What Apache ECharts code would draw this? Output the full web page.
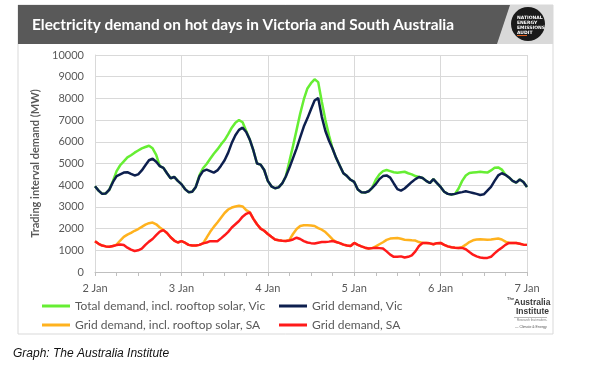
<!DOCTYPE html>
<html>
<head>
<meta charset="utf-8">
<script src="https://cdn.jsdelivr.net/npm/echarts@6/dist/echarts.min.js"></script>
<style>
html,body{margin:0;padding:0;background:#fff;}
#chart{width:600px;height:367px;}
</style>
</head>
<body>
<div id="chart"></div>
<script>
// Hourly values from 2 Jan 00:00 to 7 Jan 00:00 (MW)
const dayLabels = ['2 Jan','3 Jan','4 Jan','5 Jan','6 Jan','7 Jan'];
const yTicks = [0,1000,2000,3000,4000,5000,6000,7000,8000,9000,10000];

const vicTotal = [
 3950,3750,3600,3620,3800,4200,4650,4920,5100,5280,5380,5500,5600,5700,5760,5820,5700,5400,4880,4800,4550,4320,4380,4200,
 4050,3820,3680,3700,3920,4450,4780,4980,5220,5450,5650,5880,6080,6350,6650,6880,7000,6900,6500,6100,5600,5000,4950,4700,
 4200,3950,3860,3900,4080,4400,5100,5800,6550,7300,7950,8460,8700,8880,8750,7850,7000,6300,5680,5250,4900,4550,4420,4250,
 4150,3800,3680,3660,3720,3880,4250,4500,4650,4700,4650,4600,4570,4600,4620,4550,4500,4420,4380,4330,4200,4100,4280,4100,
 3920,3700,3600,3570,3600,3850,4200,4450,4560,4580,4600,4620,4600,4580,4680,4800,4820,4720,4480,4360,4200,4120,4260,4150,
 3920];
const vicGrid = [
 3950,3750,3600,3620,3800,4150,4420,4500,4580,4600,4520,4450,4500,4680,4920,5150,5220,5080,4880,4800,4550,4320,4380,4200,
 4050,3820,3680,3700,3920,4400,4650,4720,4650,4580,4680,4900,5150,5500,5950,6300,6550,6650,6450,6100,5600,5000,4950,4700,
 4200,3950,3860,3900,4080,4400,4800,5250,5700,6200,6700,7080,7500,7900,8020,7150,6500,6050,5680,5250,4900,4550,4420,4250,
 4150,3800,3680,3660,3720,3880,4050,4280,4420,4450,4350,4080,3820,3750,3850,4000,4150,4280,4380,4330,4200,4100,4280,4100,
 3920,3700,3600,3570,3600,3650,3680,3720,3680,3640,3600,3550,3580,3750,3920,4200,4450,4550,4480,4360,4200,4120,4260,4150,
 3920];
const saTotal = [
 1420,1300,1220,1180,1160,1200,1260,1450,1620,1720,1800,1900,1980,2080,2180,2250,2280,2200,2050,1930,1800,1600,1450,1360,
 1420,1350,1250,1220,1220,1250,1320,1580,1850,2080,2280,2500,2720,2880,2970,3020,3050,3020,2850,2750,2450,2200,2000,1900,
 1750,1620,1500,1460,1440,1430,1480,1750,1980,2120,2150,2150,2140,2120,2020,1950,1840,1680,1500,1380,1330,1260,1220,1200,
 1340,1250,1180,1120,1080,1100,1180,1280,1370,1480,1540,1560,1570,1530,1490,1480,1460,1450,1380,1340,1340,1320,1280,1330,
 1340,1250,1180,1140,1120,1110,1150,1260,1380,1460,1500,1510,1500,1490,1500,1520,1540,1500,1400,1340,1340,1340,1300,1260,
 1250];
const saGrid = [
 1420,1300,1220,1180,1160,1200,1240,1270,1240,1120,1030,970,1000,1080,1250,1400,1520,1700,1860,1930,1800,1600,1450,1360,
 1420,1350,1250,1220,1220,1250,1320,1360,1420,1420,1420,1550,1690,1850,2050,2200,2350,2550,2680,2750,2450,2200,2000,1900,
 1750,1620,1500,1460,1440,1430,1450,1500,1580,1520,1420,1360,1330,1310,1350,1380,1380,1400,1430,1380,1330,1260,1220,1200,
 1340,1250,1180,1120,1080,1100,1120,1100,1080,950,800,700,700,720,670,700,770,950,1200,1340,1340,1320,1280,1330,
 1340,1250,1180,1140,1120,1110,1110,1050,920,800,720,670,650,650,700,860,1000,1120,1250,1340,1340,1340,1300,1260,
 1250];

const seriesNames = [
 'Total demand, incl. rooftop solar, Vic',
 'Grid demand, Vic',
 'Grid demand, incl. rooftop solar, SA',
 'Grid demand, SA'
];
const seriesColors = ['#66ee33', '#0d1f4e', '#ffb21e', '#ff1a1a'];
const seriesValues = [vicTotal, vicGrid, saTotal, saGrid];

const FONT = 'Lato, "Open Sans", sans-serif';
const chart = echarts.init(document.getElementById('chart'), null, {renderer: 'canvas'});

const legendCommon = {
  orient: 'horizontal', icon: 'rect', itemWidth: 28, itemHeight: 3,
  textStyle: {color: '#595959', fontSize: 12, fontFamily: FONT},
  selectedMode: false, padding: 0
};

chart.setOption({
  animation: false,
  backgroundColor: '#ffffff',
  grid: {left: 95, right: 73, top: 55, bottom: 95, containLabel: false},
  xAxis: {
    type: 'value', min: 0, max: 120, interval: 24,
    axisLine: {show: true, lineStyle: {color: '#bfbfbf', width: 1}},
    axisTick: {show: true, length: 4, lineStyle: {color: '#bfbfbf'}},
    minorTick: {show: true, splitNumber: 4, length: 4, lineStyle: {color: '#bfbfbf'}},
    splitLine: {show: true, lineStyle: {color: '#d9d9d9', width: 1}},
    axisLabel: {
      color: '#595959', fontSize: 11, fontFamily: FONT, margin: 11,
      formatter: v => dayLabels[Math.round(v / 24)] || ''
    }
  },
  yAxis: {
    type: 'value', min: yTicks[0], max: yTicks[yTicks.length - 1], interval: 1000,
    name: 'Trading interval demand (MW)', nameLocation: 'middle', nameRotate: 90, nameGap: 47,
    nameTextStyle: {color: '#595959', fontSize: 11, fontWeight: 'bold', fontFamily: FONT},
    axisLine: {show: true, lineStyle: {color: '#d9d9d9'}},
    axisTick: {show: false},
    splitLine: {show: true, lineStyle: {color: '#d9d9d9', width: 1}},
    axisLabel: {color: '#595959', fontSize: 11, fontFamily: FONT, margin: 11, formatter: v => String(v)}
  },
  legend: [
    Object.assign({left: 42, top: 300, data: [seriesNames[0]]}, legendCommon),
    Object.assign({left: 279, top: 300, data: [seriesNames[1]]}, legendCommon),
    Object.assign({left: 42, top: 319, data: [seriesNames[2]]}, legendCommon),
    Object.assign({left: 279, top: 319, data: [seriesNames[3]]}, legendCommon)
  ],
  series: seriesValues.map((vals, k) => ({
    name: seriesNames[k], type: 'line', symbol: 'none', smooth: false,
    color: seriesColors[k],
    lineStyle: {color: seriesColors[k], width: 2.5},
    data: vals.map((v, i) => [i, v]),
    z: 2 + k
  })),
  graphic: [
    {type: 'rect', shape: {x: 18, y: 5, width: 535, height: 329}, style: {fill: 'none', stroke: '#d9d9d9', lineWidth: 1}, z: 0},
    {type: 'rect', shape: {x: 18, y: 5, width: 535, height: 39}, style: {fill: '#d9d9d9'}, z: 1},
    {type: 'polygon', shape: {points: [[18, 5], [510, 5], [497, 44], [18, 44]]}, style: {fill: '#595959'}, z: 2},
    {type: 'text', style: {text: 'Electricity demand on hot days in Victoria and South Australia', x: 32, y: 25,
      fill: '#ffffff', font: 'bold 15.4px ' + FONT, textVerticalAlign: 'middle'}, z: 3},
    {type: 'circle', shape: {cx: 528, cy: 24, r: 17}, style: {fill: '#1a1a1a'}, z: 3},
    {type: 'text', style: {text: 'NATIONAL\nENERGY\nEMISSIONS\nAUDIT', x: 517, y: 15, fill: '#ffffff',
      font: 'bold 4.5px "DejaVu Sans", sans-serif', lineHeight: 5}, z: 4},
    {type: 'rect', shape: {x: 517, y: 35, width: 10, height: 1}, style: {fill: '#e06020'}, z: 4},
    // Australia Institute logo
    {type: 'text', style: {text: 'The', x: 507, y: 297, fill: '#444', font: 'bold 4px "Liberation Sans", sans-serif'}, z: 4},
    {type: 'text', style: {text: 'Australia', x: 514, y: 298, fill: '#3a3a3a', font: 'bold 8.5px "Liberation Sans Narrow", "Liberation Sans", sans-serif'}, z: 4},
    {type: 'text', style: {text: 'Institute', x: 516, y: 307, fill: '#3a3a3a', font: 'bold 8.5px "Liberation Sans Narrow", "Liberation Sans", sans-serif'}, z: 4},
    {type: 'rect', shape: {x: 514, y: 317, width: 33, height: 0.6}, style: {fill: '#777'}, z: 4},
    {type: 'text', style: {text: 'Research that matters.', x: 517, y: 318.5, fill: '#777', font: '3px "Liberation Sans", sans-serif'}, z: 4},
    {type: 'text', style: {text: '— Climate & Energy', x: 515, y: 325, fill: '#555', font: '3.5px "Liberation Sans", sans-serif'}, z: 4},
    // caption
    {type: 'text', style: {text: 'Graph: The Australia Institute', x: 13, y: 354, fill: '#111111',
      font: 'italic 12px "Liberation Sans", Arial, sans-serif', textVerticalAlign: 'middle'}, z: 4}
  ]
});
</script>
</body>
</html>
